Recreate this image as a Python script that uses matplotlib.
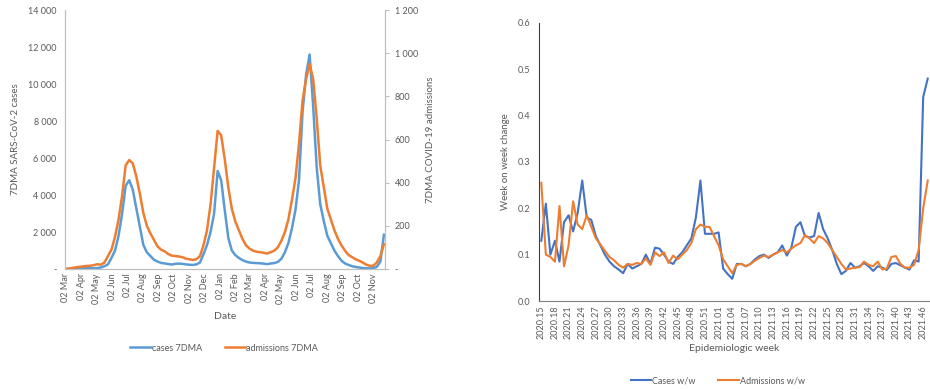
import numpy as np
import pandas as pd
import matplotlib
matplotlib.use("Agg")
import matplotlib.pyplot as plt
import matplotlib.dates as mdates
from matplotlib.ticker import FuncFormatter, FixedLocator

plt.rcParams['font.family'] = ['Lato', 'DejaVu Sans']

# ---- left panel: 7-day moving averages, weekly readings from 2 Mar 2020 ----
start_date = "2020-03-02"
cases_7dma = [0, 5, 20, 50, 60, 60, 50, 40, 40, 50,
              80, 150, 250, 600, 1000, 1800, 3000, 4500, 4800, 4300,
              3300, 2300, 1300, 900, 700, 500, 400, 330, 300, 270,
              240, 280, 290, 280, 250, 230, 220, 250, 350, 800,
              1300, 2000, 3000, 5300, 4800, 3200, 1700, 1000, 750, 600,
              480, 400, 350, 330, 320, 310, 290, 260, 300, 320,
              380, 550, 900, 1400, 2200, 3200, 4800, 8500, 10500, 11600,
              8800, 5500, 3500, 2600, 1800, 1400, 1000, 700, 450, 300,
              220, 150, 110, 80, 50, 40, 30, 40, 120, 400,
              1850]
admissions_7dma = [0, 2, 5, 8, 10, 12, 14, 15, 18, 22,
                   20, 30, 60, 90, 150, 230, 340, 480, 505, 490,
                   430, 350, 260, 200, 165, 135, 105, 90, 82, 70,
                   62, 60, 58, 55, 48, 45, 42, 45, 60, 110,
                   180, 300, 470, 640, 620, 510, 380, 280, 220, 180,
                   140, 110, 95, 85, 80, 78, 75, 72, 78, 85,
                   100, 130, 170, 230, 320, 420, 580, 780, 880, 950,
                   880, 700, 480, 380, 280, 230, 180, 140, 110, 85,
                   65, 55, 45, 38, 30, 20, 15, 15, 30, 60,
                   115]
month_ticks = pd.date_range("2020-03-01", "2021-11-01", freq="MS") + pd.Timedelta(days=1)

# ---- right panel: week on week change ----
weeks_2020 = [f"2020.{w:02d}" for w in range(15, 54)]
weeks_2021 = [f"2021.{w:02d}" for w in range(1, 48)]
epi_weeks = weeks_2020 + weeks_2021
cases_ww = [0.13, 0.21, 0.10, 0.13, 0.085, 0.17, 0.185, 0.15, 0.19, 0.26,
            0.18, 0.175, 0.14, 0.12, 0.10, 0.085, 0.075, 0.068, 0.06, 0.08,
            0.07, 0.075, 0.08, 0.10, 0.08, 0.115, 0.113, 0.10, 0.085, 0.08,
            0.095, 0.105, 0.12, 0.135, 0.18, 0.26, 0.145, 0.145, 0.145, 0.148,
            0.07, 0.058, 0.048, 0.08, 0.08, 0.075, 0.08, 0.09, 0.097, 0.10,
            0.093, 0.10, 0.105, 0.12, 0.098, 0.115, 0.16, 0.17, 0.14, 0.137,
            0.14, 0.19, 0.155, 0.135, 0.11, 0.08, 0.058, 0.065, 0.082, 0.072,
            0.075, 0.082, 0.075, 0.065, 0.075, 0.072, 0.067, 0.08, 0.082, 0.077,
            0.072, 0.068, 0.088, 0.085, 0.44, 0.48]
admissions_ww = [0.255, 0.10, 0.095, 0.085, 0.205, 0.075, 0.12, 0.215, 0.165, 0.155,
                 0.185, 0.16, 0.135, 0.122, 0.108, 0.095, 0.088, 0.078, 0.072, 0.08,
                 0.078, 0.082, 0.08, 0.092, 0.078, 0.105, 0.097, 0.105, 0.082, 0.098,
                 0.09, 0.10, 0.11, 0.125, 0.155, 0.165, 0.16, 0.16, 0.14, 0.12,
                 0.09, 0.075, 0.06, 0.078, 0.08, 0.075, 0.08, 0.087, 0.093, 0.098,
                 0.095, 0.10, 0.105, 0.11, 0.105, 0.113, 0.12, 0.125, 0.142, 0.135,
                 0.125, 0.14, 0.135, 0.125, 0.11, 0.095, 0.08, 0.068, 0.07, 0.072,
                 0.073, 0.085, 0.078, 0.075, 0.085, 0.068, 0.07, 0.095, 0.097, 0.08,
                 0.072, 0.072, 0.078, 0.11, 0.20, 0.26]

grey = "#595959"
axis_grey = "#BFBFBF"
blue_l, orange = "#5B9BD5", "#ED7D31"
blue_r = "#4472C4"


def space_thousands(v, pos):
    if v == 0:
        return "-"
    return f"{int(round(v)):,}".replace(",", " ")


fig = plt.figure(figsize=(9.3, 3.89), dpi=100)

# left chart
ax1 = fig.add_axes([0.0699, 0.3085, 0.344, 0.6655])
ax2 = ax1.twinx()
dates = pd.date_range(start_date, periods=len(cases_7dma), freq="7D")
ax1.plot(dates, cases_7dma, color=blue_l, lw=1.8, label="cases 7DMA")
ax2.plot(dates, admissions_7dma, color=orange, lw=1.8, label="admissions 7DMA")
ax1.set_ylim(0, 14000)
ax2.set_ylim(0, 1200)
ax1.set_yticks(np.arange(0, 14001, 2000))
ax2.set_yticks(np.arange(0, 1201, 200))
ax1.yaxis.set_major_formatter(FuncFormatter(space_thousands))
ax2.yaxis.set_major_formatter(FuncFormatter(space_thousands))
ax1.set_xlim(pd.Timestamp("2020-03-01"), pd.Timestamp("2021-11-24"))
ax1.xaxis.set_major_locator(FixedLocator(mdates.date2num(month_ticks)))
ax1.xaxis.set_major_formatter(mdates.DateFormatter("%d %b"))
for ax in (ax1, ax2):
    ax.spines["top"].set_visible(False)
    for s in ("left", "right", "bottom"):
        ax.spines[s].set_color(axis_grey)
    ax.tick_params(colors=grey, labelsize=6.5, length=0, pad=6)
ax2.tick_params(axis="y", length=3, color=axis_grey, pad=4)
ax1.tick_params(axis="x", rotation=90, pad=3)
ax1.set_xlabel("Date", color=grey, fontsize=7.5, labelpad=6)
ax1.set_ylabel("7DMA SARS-CoV-2 cases", color=grey, fontsize=7, labelpad=6)
ax2.set_ylabel("7DMA COVID-19 admissions", color=grey, fontsize=7, labelpad=6)
h1, l1 = ax1.get_legend_handles_labels()
h2, l2 = ax2.get_legend_handles_labels()
fig.legend(h1 + h2, l1 + l2, loc="center", bbox_to_anchor=(0.241, 0.105), ncol=2,
           frameon=False, fontsize=6.5, labelcolor=grey, handlelength=2.3,
           handletextpad=0.1, columnspacing=2.5)

# right chart
ax3 = fig.add_axes([0.5796, 0.2262, 0.4204, 0.7148])
x = np.arange(len(epi_weeks))
ax3.plot(x, cases_ww, color=blue_r, lw=1.5, label="Cases w/w")
ax3.plot(x, admissions_ww, color=orange, lw=1.5, label="Admissions w/w")
ax3.set_ylim(0, 0.6)
ax3.set_yticks(np.arange(0, 0.61, 0.1))
ax3.yaxis.set_major_formatter(FuncFormatter(lambda v, p: f"{v:.1f}"))
ax3.set_xlim(-0.5, len(epi_weeks) - 0.5)
ax3.set_xticks(x[::3])
ax3.set_xticklabels(epi_weeks[::3], rotation=90)
ax3.spines["top"].set_visible(False)
ax3.spines["right"].set_visible(False)
ax3.spines["left"].set_color("#404040")
ax3.spines["bottom"].set_color("#808080")
ax3.tick_params(colors=grey, labelsize=6.5, length=0, pad=6)
ax3.tick_params(axis="x", pad=3)
ax3.set_xlabel("Epidemiologic week", color=grey, fontsize=7.5, labelpad=4)
ax3.set_ylabel("Week on week change", color=grey, fontsize=7, labelpad=6)
fig.legend(*ax3.get_legend_handles_labels(), loc="center", bbox_to_anchor=(0.772, 0.021),
           ncol=2, frameon=False, fontsize=6.5, labelcolor=grey, handlelength=2.3,
           handletextpad=0.1, columnspacing=2.5)

fig.savefig("out.png", dpi=100, facecolor="white")
